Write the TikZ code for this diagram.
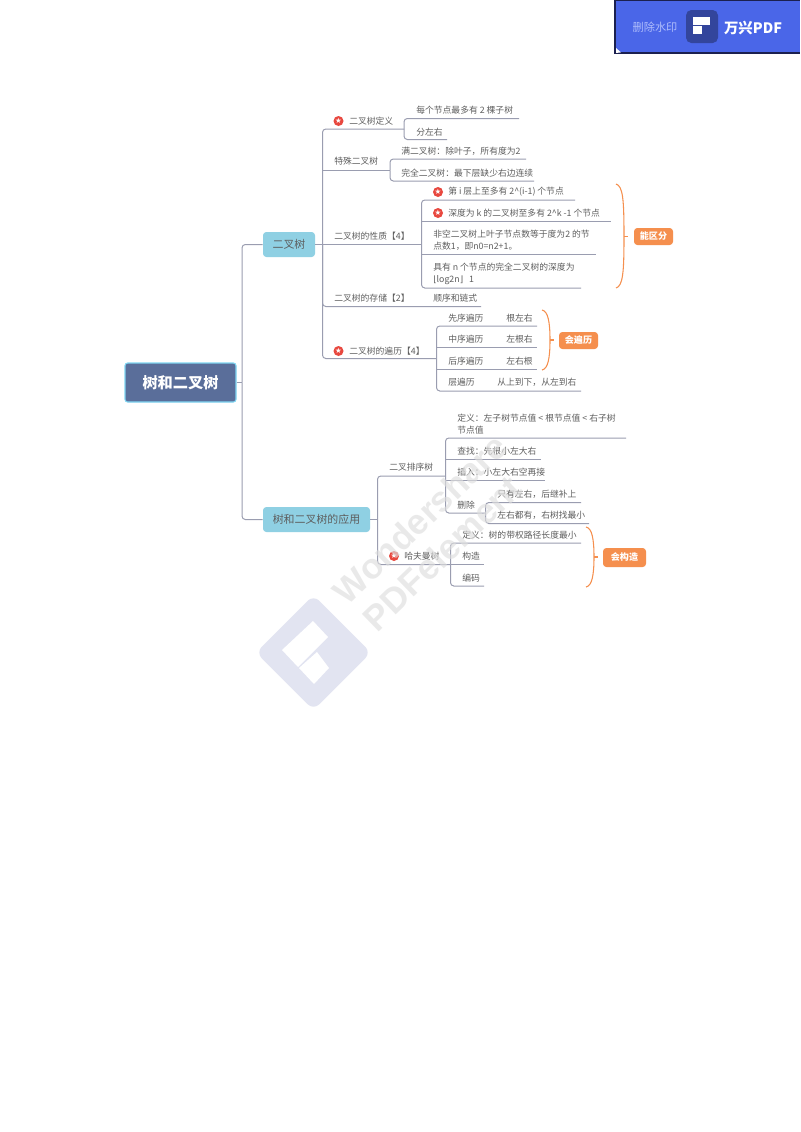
\documentclass[tikz,border=0pt]{standalone}
\usepackage{fontspec}
\setmainfont{Noto Sans CJK SC}
\newfontfamily\djv{DejaVu Sans}
\newfontfamily\lsans{Liberation Sans}
\definecolor{linec}{HTML}{9A9DB0}
\definecolor{txtc}{HTML}{5E5E5E}
\definecolor{topicc}{HTML}{8FD0E3}
\definecolor{rootc}{HTML}{5A6E9A}
\definecolor{rootb}{HTML}{7FD6F2}
\definecolor{orangec}{HTML}{F58F4E}
\definecolor{redc}{HTML}{E8483F}
\definecolor{wmc}{HTML}{E2E4F1}
\definecolor{wmt}{HTML}{DEDEDE}
\definecolor{btnc}{HTML}{4A66E8}
\definecolor{btnb}{HTML}{1B2050}
\definecolor{btni}{HTML}{33459C}
\definecolor{btnt}{HTML}{AEBCFB}
\tikzset{
  ln/.style={draw=linec,line width=0.75pt},
  rc/.style={ln,rounded corners=2.5pt},
  txt/.style={anchor=west,inner sep=0pt,text=txtc,align=left,font=\fontsize{6.6}{9}\selectfont},
  topicbox/.style={fill=topicc,rounded corners=2.5pt,inner sep=0pt,text=txtc,font=\fontsize{8.2}{10}\selectfont},
  rootbox/.style={fill=rootc,draw=rootb,line width=0.8pt,rounded corners=2pt,inner sep=0pt,text=white,font=\fontsize{11.4}{13}\selectfont\bfseries},
  tagbox/.style={fill=orangec,rounded corners=2.5pt,inner sep=0pt,text=white,font=\fontsize{6.8}{9}\selectfont\bfseries},
  staricon/.style={circle,fill=redc,inner sep=0pt,minimum size=7.5pt,text=white,font=\djv\fontsize{5.6}{6}\selectfont},
  bracec/.style={draw=orangec,line width=0.8pt},
  wmtext/.style={text=wmt,rotate=44,inner sep=0pt,font=\lsans\bfseries\fontsize{26.5}{28}\selectfont}
}
\begin{document}
\begin{tikzpicture}[x=0.75pt,y=-0.75pt]
\useasboundingbox (0,0) rectangle (800,1132);
\fill[white] (0,0) rectangle (800,1132);

% main nodes
\node[rootbox,minimum width=83.25pt,minimum height=29.25pt] (root) at (180.5,382.5) {树和二叉树};
\node[topicbox,minimum width=39pt,minimum height=18.75pt] (tA) at (289,244.5) {二叉树};
\node[topicbox,minimum width=80.25pt,minimum height=18.75pt] (tB) at (316.5,519.5) {树和二叉树的应用};

% hubs
\coordinate (h0) at (242,382.5);
\coordinate (hA) at (322.5,244.5);
\coordinate (hB) at (377.5,519.5);
\draw[ln] (root) -- (h0);
\draw[rc] (h0) |- (tA);
\draw[rc] (h0) |- (tB);
\draw[ln] (tA) -- (hA);
\draw[ln] (tB) -- (hB);

% branch: definition
\node[staricon] (i1) at (338.5,121) {★};
\node[txt] (n1) at (349,121) {二叉树定义};
\coordinate (h1) at (404,129);
\draw[rc] (hA) |- (h1);
\node[txt] (n11) at (416,110) {每个节点最多有 2 棵子树};
\coordinate (e11) at (519,118.5);
\node[txt] (n12) at (416,132) {分左右};
\coordinate (e12) at (447,139.5);
\draw[rc] (h1) |- (e11);
\draw[rc] (h1) |- (e12);

% branch: special trees
\node[txt] (n2) at (334,161.5) {特殊二叉树};
\coordinate (h2) at (390,170.5);
\draw[ln] (hA) |- (h2);
\node[txt] (n21) at (401,151) {满二叉树：除叶子，所有度为2};
\coordinate (e21) at (526,159);
\node[txt] (n22) at (401,173) {完全二叉树：最下层缺少右边连续};
\coordinate (e22) at (534,181);
\draw[rc] (h2) |- (e21);
\draw[rc] (h2) |- (e22);

% branch: properties
\node[txt] (n3) at (334,236) {二叉树的性质【4】};
\coordinate (h3) at (421.5,244.5);
\draw[ln] (hA) -- (h3);
\node[staricon] (i31) at (438,192) {★};
\node[txt] (n31) at (448,192) {第 i 层上至多有 2\^{}(i-1) 个节点};
\coordinate (e31) at (575,200);
\node[staricon] (i32) at (438,213) {★};
\node[txt] (n32) at (448,213) {深度为 k 的二叉树至多有 2\^{}k -1 个节点};
\coordinate (e32) at (611,221.5);
\node[txt] (n33) at (433,240) {非空二叉树上叶子节点数等于度为2 的节\\点数1，即n0=n2+1。};
\coordinate (e33) at (596,254);
\node[txt] (n34) at (433,273.5) {具有 n 个节点的完全二叉树的深度为\\{\djv ⌊}log2n{\djv ⌋}\ \ \ 1};
\coordinate (e34) at (581,288);
\draw[rc] (h3) |- (e31);
\draw[ln] (h3) |- (e32);
\draw[ln] (h3) |- (e33);
\draw[rc] (h3) |- (e34);

% branch: storage
\node[txt] (n4) at (334,298.5) {二叉树的存储【2】};
\node[txt] (n41) at (433,298.5) {顺序和链式};
\coordinate (e41) at (481,306.5);
\draw[rc] (hA) |- (e41);

% branch: traversal
\node[staricon] (i5) at (338.5,351) {★};
\node[txt] (n5) at (349,351) {二叉树的遍历【4】};
\coordinate (h5) at (436.5,358.5);
\draw[rc] (hA) |- (h5);
\node[txt] (n51) at (448,318) {先序遍历};
\node[txt] (n51b) at (506,318) {根左右};
\coordinate (e51) at (537,326);
\node[txt] (n52) at (448,339.5) {中序遍历};
\node[txt] (n52b) at (506,339.5) {左根右};
\coordinate (e52) at (537,347.5);
\node[txt] (n53) at (448,361) {后序遍历};
\node[txt] (n53b) at (506,361) {左右根};
\coordinate (e53) at (537,369.5);
\node[txt] (n54) at (448,382.5) {层遍历};
\node[txt] (n54b) at (497,382.5) {从上到下，从左到右};
\coordinate (e54) at (581,391);
\draw[rc] (h5) |- (e51);
\draw[ln] (h5) |- (e52);
\draw[ln] (h5) |- (e53);
\draw[rc] (h5) |- (e54);

% branch: sort tree
\node[txt] (m1) at (389,467) {二叉排序树};
\coordinate (g1) at (445.5,476);
\draw[rc] (hB) |- (g1);
\node[txt] (m11) at (457,424) {定义：左子树节点值 < 根节点值 < 右子树\\节点值};
\coordinate (f11) at (626,438);
\node[txt] (m12) at (457,451) {查找：先根小左大右};
\coordinate (f12) at (541,459);
\node[txt] (m13) at (457,472) {插入：小左大右空再接};
\coordinate (f13) at (545,480.5);
\node[txt] (m14) at (457,505) {删除};
\coordinate (g14) at (485.5,513);
\draw[rc] (g1) |- (f11);
\draw[ln] (g1) |- (f12);
\draw[ln] (g1) |- (f13);
\draw[rc] (g1) |- (g14);
\node[txt] (m141) at (497,494) {只有左右，后继补上};
\coordinate (f141) at (581,502.5);
\node[txt] (m142) at (497,515) {左右都有，右树找最小};
\coordinate (f142) at (589,523.5);
\draw[rc] (g14) |- (f141);
\draw[rc] (g14) |- (f142);

% branch: huffman
\node[staricon] (j2) at (394,556) {★};
\node[txt] (m2) at (404,556) {哈夫曼树};
\coordinate (g2) at (450.5,564.5);
\draw[rc] (hB) |- (g2);
\node[txt] (m21) at (462,535) {定义：树的带权路径长度最小};
\coordinate (f21) at (581,543);
\node[txt] (m22) at (462,556) {构造};
\coordinate (f22) at (484,564.5);
\node[txt] (m23) at (462,578) {编码};
\coordinate (f23) at (484,586);
\draw[rc] (g2) |- (f21);
\draw[ln] (g2) -- (f22);
\draw[rc] (g2) |- (f23);

% summary tags and braces
\node[tagbox,minimum width=29.25pt,minimum height=12.75pt] (s1) at (653.5,236.5) {能区分};
\coordinate (b1) at (624,236.5);
\draw[bracec] (616,184) .. controls (623,186) and (624,200) .. (b1) .. controls (624,272) and (623,286) .. (616,288);
\draw[bracec] (b1) -- ++(4,0);
\node[tagbox,minimum width=29.25pt,minimum height=12.75pt] (s2) at (578.5,340.5) {会遍历};
\coordinate (b2) at (550,340);
\draw[bracec] (542,310) .. controls (548,311) and (550,322) .. (b2) .. controls (550,358) and (548,369) .. (542,370);
\draw[bracec] (b2) -- ++(4,0);
\node[tagbox,minimum width=32.25pt,minimum height=14.25pt] (s3) at (624.5,557.5) {会构造};
\coordinate (b3) at (594,557);
\draw[bracec] (586,527) .. controls (592,528) and (594,539) .. (b3) .. controls (594,575) and (592,586) .. (586,587);
\draw[bracec] (b3) -- ++(4,0);

% watermark
\begin{scope}[opacity=0.65]
\node[wmtext] (w1) at (420,519) {Wondershare};
\node[wmtext] (w2) at (442,553) {PDFelement};
\end{scope}
\fill[wmc,rounded corners=6pt] (313.5,595) -- (371,652.5) -- (313.5,710) -- (256,652.5) -- cycle;
\fill[white] (313,621) -- (328,637) -- (298,667) -- (282,650) -- cycle;
\fill[white] (317,652) -- (329,668) -- (314,684) -- (299,668) -- cycle;

% top button
\fill[btnc] (615,0) rectangle (800,53);
\draw[btnb,line width=1.2pt] (615,0) -- (615,53) -- (800,53);
\draw[btnb,line width=1.2pt] (615,0.5) -- (800,0.5);
\fill[white] (616,53) -- (616,48) -- (621,52.4) -- cycle;
\node[inner sep=0pt,text=btnt,font=\fontsize{8.4}{10}\selectfont] (bt1) at (655,27) {删除水印};
\fill[btni,rounded corners=4pt] (686,10) rectangle (718,43);
\fill[white] (693,17) rectangle (710,25);
\fill[white] (693,26) rectangle (702,34);
\node[inner sep=0pt,text=white,font=\fontsize{10.8}{12}\selectfont\bfseries] (bt2) at (753,28) {万兴PDF};
\end{tikzpicture}
\end{document}
